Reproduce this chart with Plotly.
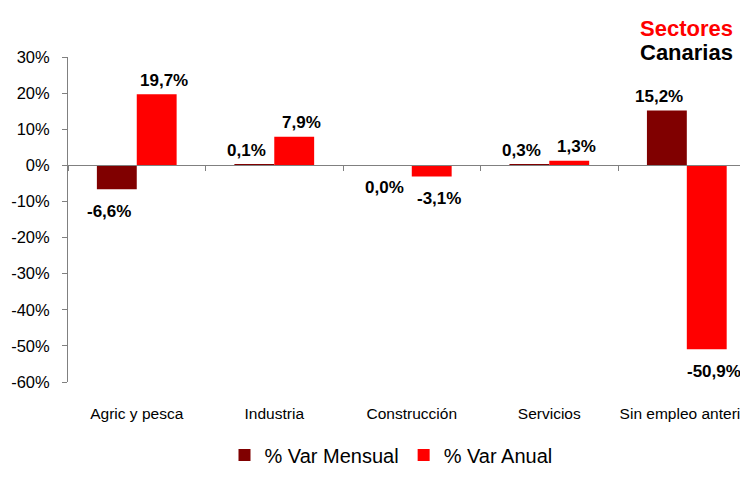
import plotly.graph_objects as go

categories = ["Agric y pesca", "Industria", "Construcción", "Servicios", "Sin empleo anterior"]
var_mensual = [-6.6, 0.1, 0.0, 0.3, 15.2]
var_anual = [19.7, 7.9, -3.1, 1.3, -50.9]
series_names = ["% Var Mensual", "% Var Anual"]
colors = ["#800000", "#FF0000"]
y_ticks = list(range(-60, 31, 10))

FONT = "Liberation Sans, Arial"

def fmt(v):
    return f"{v:.1f}".replace(".", ",") + "%"

fig = go.Figure()
for name, vals, col in zip(series_names, [var_mensual, var_anual], colors):
    fig.add_trace(go.Bar(x=categories, y=vals, name=name, marker_color=col,
                         marker_line_width=0, cliponaxis=False))

# axis line at zero with boundary ticks
fig.add_trace(go.Scatter(x=categories, y=[0]*len(categories), xaxis="x2", mode="none",
                         showlegend=False, hoverinfo="skip"))

annots = []
for i, (vals, off) in enumerate(zip([var_mensual, var_anual], [-0.2, 0.2])):
    for j, v in enumerate(vals):
        annots.append(dict(x=j + off, y=v, xref="x", yref="y", text="<b>" + fmt(v) + "</b>",
                           showarrow=False, yshift=-22 if v <= 0 else 14,
                           font=dict(family=FONT, size=17, color="black")))

annots.append(dict(x=0.981, y=1.089, xref="paper", yref="paper", xanchor="right",
                   yanchor="middle", text="<b>Sectores</b>", showarrow=False,
                   font=dict(family=FONT, size=22, color="#FF0000")))
annots.append(dict(x=0.981, y=1.015, xref="paper", yref="paper", xanchor="right",
                   yanchor="middle", text="<b>Canarias</b>", showarrow=False,
                   font=dict(family=FONT, size=22, color="black")))

fig.update_layout(
    width=740, height=475,
    margin=dict(l=60, r=0, t=49, b=101),
    paper_bgcolor="white", plot_bgcolor="white",
    barmode="group", bargap=0.42, bargroupgap=0,
    font=dict(family=FONT, size=15, color="black"),
    showlegend=True,
    legend=dict(orientation="h", x=0.475, xanchor="center", y=-0.2246, yanchor="middle",
                font=dict(size=20, color="black"), itemwidth=30, traceorder="normal"),
    annotations=annots,
    xaxis=dict(range=[-0.5, 4.445], showline=False, ticks="", showgrid=False, zeroline=False,
               automargin=False, ticklabelstandoff=20, tickfont=dict(size=15.5)),
    xaxis2=dict(overlaying="x", matches="x", anchor="free", position=2/3, showline=True,
                linecolor="#808080", linewidth=1, ticks="outside", tickson="boundaries",
                ticklen=5, tickcolor="#808080", showticklabels=False, showgrid=False,
                zeroline=False, automargin=False),
    yaxis=dict(range=[-60, 30], tickvals=y_ticks, ticktext=[f"{t}%" for t in y_ticks],
               showline=True, linecolor="#808080", linewidth=1, ticks="outside", ticklen=5,
               tickcolor="#808080", showgrid=False, zeroline=False, automargin=False,
               ticklabelstandoff=9, tickfont=dict(size=16.5)),
)

fig.write_html("out.html")
